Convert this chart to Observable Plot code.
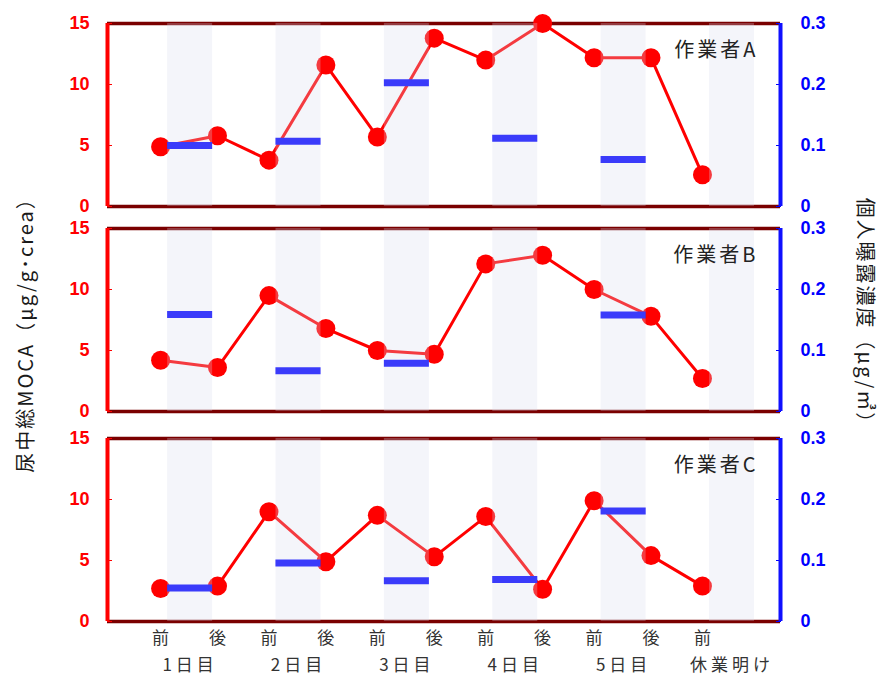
<!DOCTYPE html>
<html><head><meta charset="utf-8">
<script src="https://cdn.jsdelivr.net/npm/d3@7"></script>
<script src="https://cdn.jsdelivr.net/npm/@observablehq/plot@0.6"></script>
<style>
body{margin:0;background:#fff;}
#chart{position:relative;width:880px;height:675px;background:#fff;overflow:hidden;font-family:"Noto Sans CJK JP",sans-serif;}
.panel{position:absolute;left:0;}
.ytitle{position:absolute;white-space:nowrap;font-size:20px;color:#1a1a1a;letter-spacing:2px;font-family:"Noto Sans CJK JP",sans-serif;}
</style></head><body><div id="chart"></div>
<script>
// ---- data ----
const workers = ["作業者A", "作業者B", "作業者C"];
const days = ["1日目", "2日目", "3日目", "4日目", "5日目", "休業明け"];
const pointDay = [0, 0, 1, 1, 2, 2, 3, 3, 4, 4, 5];
const pointTiming = ["前", "後", "前", "後", "前", "後", "前", "後", "前", "後", "前"];
const mocaA = [4.9, 5.8, 3.8, 11.6, 5.7, 13.8, 12.0, 15.0, 12.2, 12.2, 2.6];
const mocaB = [4.2, 3.6, 9.5, 6.8, 5.0, 4.7, 12.1, 12.8, 10.0, 7.8, 2.7];
const mocaC = [2.7, 2.9, 9.0, 4.9, 8.7, 5.3, 8.6, 2.65, 9.9, 5.4, 2.9];
const exposureA = [0.100, 0.107, 0.203, 0.112, 0.077, null];
const exposureB = [0.159, 0.067, 0.079, null, 0.158, null];
const exposureC = [0.055, 0.096, 0.067, 0.069, 0.181, null];
const leftTicks = [0, 5, 10, 15];
const rightTicks = [0, 0.1, 0.2, 0.3];
const leftTitle = "尿中総MOCA（μg/g･crea）";
const rightTitle = "個人曝露濃度（μg/㎥）";

// ---- layout helpers ----
const factor = 15 / 0.3;             // right axis units -> left axis units
const timingOffset = {"前": 0, "後": 0.525};
const bandStart = 0.065, bandEnd = 0.48;
const xDomain = [-0.49, 5.72];
const font = "'Liberation Sans', 'Noto Sans CJK JP', sans-serif";
const jp = "'Noto Sans CJK JP', sans-serif";

function panel(name, moca, exposure, top, mt, mb, showX) {
  const pts = moca.map((v, i) => ({x: pointDay[i] + timingOffset[pointTiming[i]], v, t: pointTiming[i]}));
  const bars = exposure.map((v, i) => ({day: i, v})).filter(d => d.v != null);
  const bands = days.map((d, i) => ({day: i}));
  const marks = [
    Plot.ruleY([0, 15], {stroke: "#7a0000", strokeWidth: 3.5}),
    Plot.line(pts, {x: "x", y: "v", stroke: "#ff0000", strokeWidth: 3}),
    Plot.dot(pts, {x: "x", y: "v", r: 9.5, fill: "#ff0000"}),
    Plot.ruleY(bars, {y: d => d.v * factor, x1: d => d.day + bandStart, x2: d => d.day + bandEnd, stroke: "#0000ff", strokeWidth: 7}),
    Plot.rect(bands, {x1: d => d.day + bandStart, x2: d => d.day + bandEnd, fill: "rgb(214,218,238)", fillOpacity: 0.27}),
    Plot.axisY({anchor: "left", ticks: leftTicks, tickSize: -5, tickPadding: 23, stroke: "#ff0000", fill: "#ff0000", fontWeight: "bold", label: null}),
    Plot.axisY({anchor: "right", ticks: rightTicks.map(v => v * factor), tickFormat: v => String(+(v / factor).toFixed(1)), tickSize: -5, tickPadding: 25, stroke: "#0000ff", fill: "#0000ff", fontWeight: "bold", label: null}),
    Plot.ruleX([xDomain[0]], {stroke: "#ff0000", strokeWidth: 4}),
    Plot.ruleX([xDomain[1]], {stroke: "#1010ff", strokeWidth: 4}),
    Plot.text([name], {text: d => d, frameAnchor: "top-right", dx: -22, dy: 27, textAnchor: "end", lineAnchor: "middle", fontSize: 20, fill: "#222", fontFamily: jp, className: "spaced3"})
  ];
  if (showX) {
    marks.push(
      Plot.text(pts, {x: "x", text: "t", frameAnchor: "bottom", dy: 17, lineAnchor: "middle", fontSize: 17, fill: "#333", fontFamily: jp}),
      Plot.text(days, {x: (d, i) => i + (bandStart + bandEnd) / 2, text: d => d, frameAnchor: "bottom", dy: 44, lineAnchor: "middle", fontSize: 17, fill: "#333", fontFamily: jp, className: "spaced4"})
    );
  }
  const p = Plot.plot({
    width: 880, height: mt + 183 + mb,
    marginLeft: 107, marginRight: 100, marginTop: mt, marginBottom: mb,
    x: {domain: xDomain, axis: null},
    y: {domain: [0, 15], axis: null},
    style: {fontSize: "18px", fontFamily: font, overflow: "visible", background: "transparent"},
    marks
  });
  p.classList.add("panel");
  p.style.top = top + "px";
  p.querySelectorAll(".spaced3 text").forEach(t => t.setAttribute("letter-spacing", "3"));
  p.querySelectorAll(".spaced4 text").forEach(t => t.setAttribute("letter-spacing", "4"));
  return p;
}

const chart = document.getElementById("chart");
chart.append(panel(workers[0], mocaA, exposureA, 0, 23, 10, false));
chart.append(panel(workers[1], mocaB, exposureB, 206, 22, 10, false));
chart.append(panel(workers[2], mocaC, exposureC, 416, 22, 54, true));

const lt = document.createElement("div");
lt.className = "ytitle"; lt.textContent = leftTitle;
lt.style.left = "24px"; lt.style.top = "330px";
lt.style.transform = "translate(-50%,-50%) rotate(-90deg)";
chart.append(lt);
const rt = document.createElement("div");
rt.className = "ytitle"; rt.textContent = rightTitle;
rt.style.left = "866px"; rt.style.top = "316px";
rt.style.transform = "translate(-50%,-50%) rotate(90deg)";
chart.append(rt);
</script></body></html>
